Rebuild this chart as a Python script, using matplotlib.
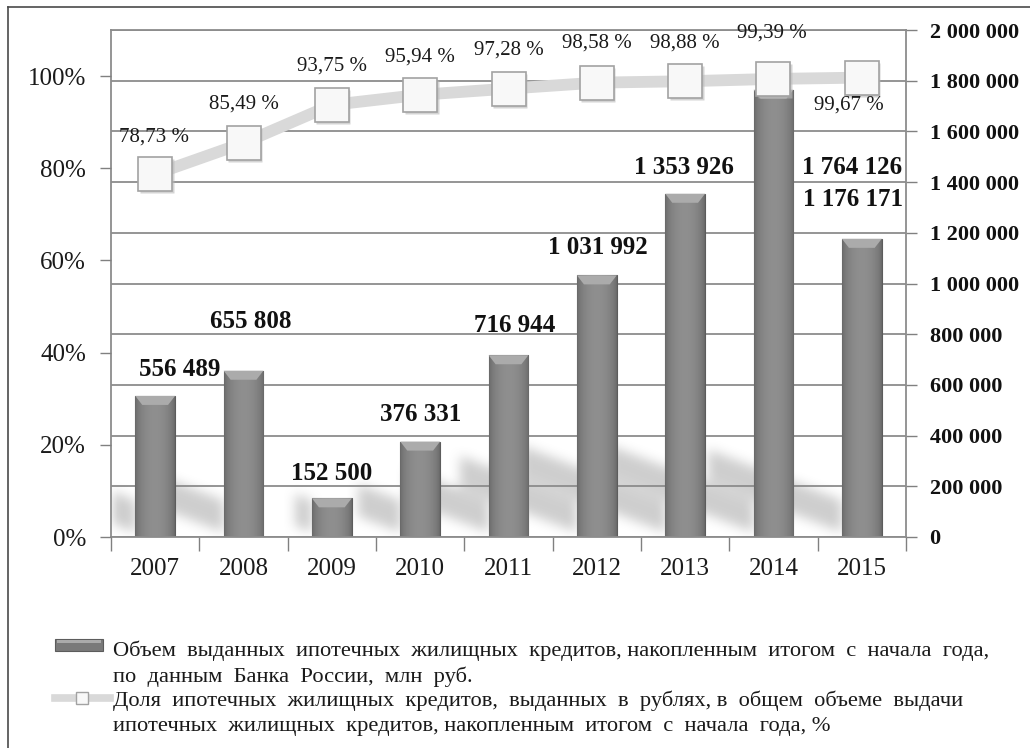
import matplotlib
matplotlib.use("Agg")
import matplotlib.pyplot as plt
import numpy as np
from matplotlib.patches import Polygon, Rectangle
from matplotlib.lines import Line2D
import matplotlib.transforms as mtransforms

plt.rcParams['font.family'] = ['Liberation Serif', 'DejaVu Serif']

# data
years = ["2007", "2008", "2009", "2010", "2011", "2012", "2013", "2014", "2015"]
volume = [556489, 655808, 152500, 376331, 716944, 1031992, 1353926, 1764126, 1176171]
share = [78.73, 85.49, 93.75, 95.94, 97.28, 98.58, 98.88, 99.39, 99.67]

legend_lines = [
    "Объем  выданных  ипотечных  жилищных  кредитов, накопленным  итогом  с  начала  года,",
    "по  данным  Банка  России,  млн  руб.",
    "Доля  ипотечных  жилищных  кредитов,  выданных  в  рублях, в  общем  объеме  выдачи",
    "ипотечных  жилищных  кредитов, накопленным  итогом  с  начала  года, %",
]

W, H = 1030, 748
fx = lambda px: px / W
fy = lambda py: 1 - py / H

fig = plt.figure(figsize=(W / 100, H / 100), dpi=100)
ax = fig.add_axes([fx(111), fy(537), (906 - 111) / W, (537 - 30) / H])
ax2 = ax.twinx()

x = np.arange(len(years))
bw = 0.45
ymax = 2000000
axw, axh = 795, 507
cat_px = axw / len(years)
ppx_y = ymax / axh

# soft shadows behind the bars (blurred mask in axes pixels)
gx, gy = np.meshgrid(np.arange(axw), np.arange(axh))  # gy measured up from base
mask = np.zeros((axh, axw))
for i, v in enumerate(volume):
    hpx = v / ppx_y
    L = min(0.45 * hpx, 145)
    xl = (i + 0.5 - bw / 2) * cat_px
    u = xl - gx
    m = (u >= 0) & (u <= L) & (gy >= 0.38 * u + 4) & (gy <= 0.38 * u + 36)
    mask = np.maximum(mask, m.astype(float))


def box_blur(a, r):
    k = np.ones(2 * r + 1) / (2 * r + 1)
    a = np.apply_along_axis(lambda row: np.convolve(row, k, mode='same'), 1, a)
    a = np.apply_along_axis(lambda col: np.convolve(col, k, mode='same'), 0, a)
    return a


for _ in range(2):
    mask = box_blur(mask, 6)
shade = np.zeros((axh, axw, 4))
shade[..., :3] = 0.62
shade[..., 3] = mask[::-1] * 0.5
ax.imshow(shade, extent=(-0.5, len(years) - 0.5, 0, ymax), aspect='auto', zorder=1,
          interpolation='bilinear')

bars = ax.bar(x, volume, width=bw, color='#7a7a7a', edgecolor='#5c5c5c', linewidth=0.8, zorder=2)

t = np.linspace(0, 1, 64)
v = 0.41 + 0.15 * np.sin(np.pi * t) ** 0.6
grad = np.dstack([v, v, v]).reshape(1, 64, 3)
for b in bars:
    x0, y0 = b.get_x(), b.get_y()
    x1, y1 = x0 + b.get_width(), y0 + b.get_height()
    im = ax.imshow(grad, extent=(x0, x1, y0, y1), aspect='auto', zorder=2.1,
                   interpolation='bilinear')
    im.set_clip_path(b)
    dy = 9 * ppx_y
    dx = 7 / cat_px
    cap = Polygon([(x0, y1), (x1, y1), (x1 - dx, y1 - dy), (x0 + dx, y1 - dy)],
                  closed=True, color='#ababab', lw=0, zorder=2.2)
    ax.add_patch(cap)

ax.set_xlim(-0.5, len(years) - 0.5)
ax.set_ylim(0, ymax)
ax.yaxis.tick_right()
ax.set_yticks(np.arange(0, ymax + 1, 200000))
ax.set_yticklabels([f"{int(t):,}".replace(",", " ") for t in np.arange(0, ymax + 1, 200000)],
                   fontsize=16, fontweight='bold')
ax.tick_params(axis='y', direction='out', length=8, width=1, color='#808080', pad=9,
               labelcolor='#111111')
ax.set_axisbelow('line')
ax.grid(axis='y', color='#8c8c8c', lw=1.3)

ax.set_xticks(x)
ax.set_xticklabels(years, fontsize=18, color='#1a1a1a')
ax.set_xticks(np.arange(-0.5, len(years)), minor=True)
ax.tick_params(axis='x', which='major', length=0, pad=15)
ax.tick_params(axis='x', which='minor', length=10, width=1, color='#808080', direction='out')

for s in ax.spines.values():
    s.set_color('#8c8c8c')
    s.set_linewidth(1.3)

bar_off = [(25, 26), (7, 49), (0, 25), (0, 27), (6, 30), (1, 28), (-1, 26), (79, -78), (-9, 39)]
for i, val in enumerate(volume):
    ax.annotate(f"{val:,}".replace(",", " "), (x[i], val), xytext=bar_off[i],
                textcoords='offset pixels', ha='center', va='center',
                fontsize=18, fontweight='bold', color='#111111', zorder=6)

# share line on the left axis
ax2.yaxis.tick_left()
ax2.set_ylim(0, 110)
ax2.set_yticks(np.arange(0, 101, 20))
ax2.set_yticklabels([f"{t}%" for t in range(0, 101, 20)], fontsize=18, color='#1a1a1a')
ax2.tick_params(axis='y', direction='out', length=8, width=1, color='#808080', pad=10)
for s in ax2.spines.values():
    s.set_visible(False)

ax2.plot(x, share, color='#d9d9d9', lw=8.5, solid_capstyle='butt', zorder=3)
shadow = mtransforms.offset_copy(ax2.transData, fig=fig, x=1.5, y=-2, units='dots')
ax2.plot(x, share, 's', ms=25, mfc='#b8b8b8', mec='none', alpha=0.6, transform=shadow, zorder=3.5)
ax2.plot(x, share, 's', ms=25, mfc='#f8f8f8', mec='#a2a2a2', mew=1.2, zorder=4)

pct_off = [(-1, 37), (0, 39), (0, 39), (0, 38), (0, 39), (0, 40), (0, 38), (-2, 46), (-13, -27)]
for i, val in enumerate(share):
    ax2.annotate(f"{val:.2f} %".replace(".", ","), (x[i], val), xytext=pct_off[i],
                 textcoords='offset pixels', ha='center', va='center',
                 fontsize=15, color='#1a1a1a', zorder=6)

# outer frame
fig.add_artist(Line2D([fx(8), 1], [fy(7), fy(7)], color='#4a4a4a', lw=1.2))
fig.add_artist(Line2D([fx(8), fx(8)], [0, fy(7)], color='#4a4a4a', lw=1.2))

# legend
fig.add_artist(Rectangle((fx(55), fy(651)), 48 / W, 12 / H, transform=fig.transFigure,
                         facecolor='#7a7a7a', edgecolor='#5c5c5c', lw=0.8))
fig.add_artist(Rectangle((fx(57), fy(643)), 44 / W, 3 / H, transform=fig.transFigure,
                         facecolor='#ababab', lw=0))
fig.add_artist(Line2D([fx(55), fx(110)], [fy(698), fy(698)], color='#d9d9d9', lw=5.5))
fig.add_artist(Line2D([fx(82)], [fy(698)], marker='s', ms=8.5, mfc='#f8f8f8',
                      mec='#a2a2a2', mew=1))
ys = [651, 677, 701, 727]
for line, yy in zip(legend_lines, ys):
    fig.text(fx(113), fy(yy), line, fontsize=16.2, va='center', ha='left', color='#1a1a1a')

fig.savefig("out.png", dpi=100)
